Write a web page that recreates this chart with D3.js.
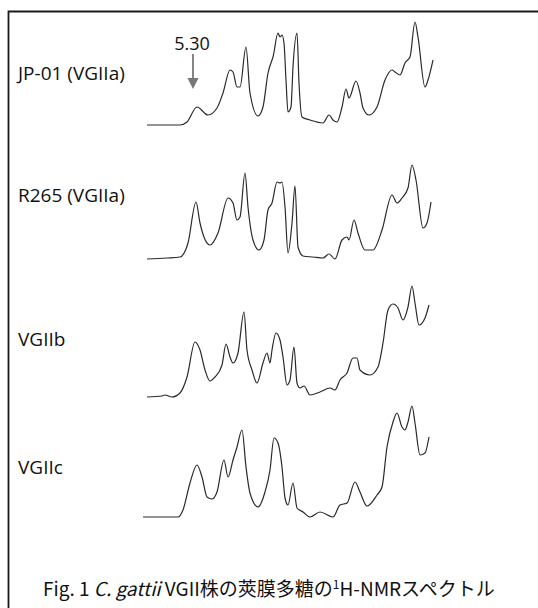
<!DOCTYPE html>
<html>
<head>
<meta charset="utf-8">
<script src="https://cdn.jsdelivr.net/npm/d3@7/dist/d3.min.js"></script>
<style>
  body { margin: 0; background: #fff; }
  svg { display: block; }
  .lbl { font-family: "Open Sans", "Noto Sans", sans-serif; fill: #111; }
</style>
</head>
<body>
<svg id="chart" width="538" height="608"></svg>
<script>
// 1H-NMR spectra, chemical shift (ppm) vs intensity (relative)
var strains = ["JP-01 (VGIIa)", "R265 (VGIIa)", "VGIIb", "VGIIc"];
var markShift = 5.30;

var jp01 = [[5.76,1],[5.43,1],[5.36,4],[5.26,19],[5.15,11],[5.06,18],[5.00,33],[4.93,56],[4.90,54],
  [4.86,39],[4.83,39],[4.77,79],[4.73,33],[4.65,10],[4.60,19],[4.55,53],[4.51,66],[4.50,69],[4.45,93],
  [4.43,89],[4.41,91],[4.39,83],[4.37,46],[4.35,14],[4.32,19],[4.30,59],[4.26,93],[4.24,43],[4.21,9],
  [4.13,6],[4.00,3],[3.94,11],[3.90,6],[3.86,4],[3.81,19],[3.77,37],[3.74,28],[3.67,45],[3.63,33],
  [3.60,18],[3.54,11],[3.46,19],[3.38,46],[3.31,56],[3.28,54],[3.23,51],[3.18,63],[3.13,69],[3.08,104],
  [3.05,89],[2.98,39],[2.95,46],[2.90,66]];

var r265 = [[5.76,0],[5.56,1],[5.43,2],[5.35,16],[5.27,57],[5.23,36],[5.13,14],[5.05,26],[4.95,61],
  [4.90,56],[4.86,39],[4.83,42],[4.78,86],[4.75,52],[4.70,19],[4.64,9],[4.59,19],[4.55,49],[4.51,56],
  [4.46,77],[4.43,76],[4.41,77],[4.38,52],[4.35,6],[4.31,36],[4.28,73],[4.25,12],[4.20,3],[4.10,2],
  [4.00,1],[3.94,5],[3.88,0],[3.81,19],[3.76,22],[3.74,19],[3.69,39],[3.65,26],[3.58,9],[3.50,9],
  [3.41,29],[3.31,64],[3.26,56],[3.21,61],[3.15,71],[3.11,94],[3.07,79],[3.00,31],[2.96,36],[2.92,57]];

var vgiib = [[5.76,0],[5.61,1],[5.58,2],[5.51,0],[5.43,4],[5.36,20],[5.28,55],[5.23,47],[5.18,27],
  [5.13,16],[5.08,20],[5.01,32],[4.97,53],[4.93,40],[4.90,34],[4.85,44],[4.79,85],[4.76,47],[4.71,27],
  [4.66,14],[4.60,34],[4.56,44],[4.53,34],[4.51,47],[4.47,64],[4.43,57],[4.40,40],[4.36,12],[4.33,17],
  [4.29,50],[4.26,14],[4.23,9],[4.19,11],[4.13,2],[4.03,5],[3.93,9],[3.88,7],[3.83,17],[3.76,24],
  [3.70,39],[3.66,39],[3.63,27],[3.53,22],[3.45,30],[3.40,54],[3.35,87],[3.30,93],[3.25,89],[3.20,77],
  [3.15,90],[3.11,111],[3.08,94],[3.04,72],[2.98,79],[2.94,92]];

var vgiic = [[5.80,0],[5.63,0],[5.45,0],[5.40,7],[5.33,34],[5.26,52],[5.21,40],[5.16,20],[5.11,18],
  [5.06,25],[4.99,57],[4.95,40],[4.90,57],[4.86,70],[4.81,87],[4.77,50],[4.73,24],[4.65,10],[4.58,25],
  [4.53,47],[4.49,79],[4.45,74],[4.41,50],[4.38,19],[4.35,12],[4.30,34],[4.26,9],[4.20,5],[4.13,0],
  [4.03,5],[3.90,0],[3.83,12],[3.76,14],[3.68,35],[3.63,25],[3.56,11],[3.46,22],[3.41,30],[3.36,70],
  [3.30,95],[3.26,104],[3.21,90],[3.18,87],[3.15,95],[3.11,111],[3.08,94],[3.03,62],[2.98,64],[2.94,80]];

var spectra = [jp01, r265, vgiib, vgiic];
var baselines = [126, 259, 397, 517];
var labelY = [80, 202, 346, 474];

var svg = d3.select("#chart");

// frame (open at right and bottom like the scanned figure)
svg.append("path")
  .attr("d", "M8.5,608V11.5H538")
  .attr("fill", "none")
  .attr("stroke", "#1a1a1a")
  .attr("stroke-width", 1.8);

var x = d3.scaleLinear().domain([5.76, 2.90]).range([147, 433]);
var y = d3.scaleLinear().domain([0, 100]).range([0, -100]);

var line = d3.line()
  .x(function (d) { return x(d[0]); })
  .y(function (d) { return y(d[1]); })
  .curve(d3.curveMonotoneX);

spectra.forEach(function (s, i) {
  var g = svg.append("g").attr("transform", "translate(0," + baselines[i] + ")");
  g.append("path")
    .datum(s)
    .attr("d", line)
    .attr("fill", "none")
    .attr("stroke", "#2a2a2a")
    .attr("stroke-width", 1.2)
    .attr("stroke-linejoin", "round");

  svg.append("text")
    .attr("class", "lbl")
    .attr("x", 18)
    .attr("y", labelY[i])
    .attr("font-size", 19)
    .text(strains[i]);
});

// 5.30 marker
var mx = x(markShift);
svg.append("text")
  .attr("class", "lbl")
  .attr("x", mx - 1)
  .attr("y", 50)
  .attr("text-anchor", "middle")
  .attr("font-size", 18)
  .text(markShift.toFixed(2));

svg.append("line")
  .attr("x1", mx).attr("x2", mx)
  .attr("y1", 54).attr("y2", 80)
  .attr("stroke", "#666")
  .attr("stroke-width", 1.6);
svg.append("path")
  .attr("d", "M" + (mx - 5.5) + ",78L" + (mx + 5.5) + ",78L" + mx + ",89Z")
  .attr("fill", "#777");

// caption
var cap = svg.append("text")
  .attr("x", 43)
  .attr("y", 596)
  .attr("font-size", 19)
  .attr("fill", "#111")
  .attr("font-family", "'Noto Sans CJK JP', 'Noto Sans', sans-serif");
cap.append("tspan").text("Fig. 1  ");
cap.append("tspan").attr("font-style", "italic").text("C. gattii");
cap.append("tspan").text(" VGII株の莢膜多糖の");
cap.append("tspan").attr("font-size", 12).attr("dy", -7).text("1");
cap.append("tspan").attr("dy", 7).text("H-NMRスペクトル");
</script>
</body>
</html>
